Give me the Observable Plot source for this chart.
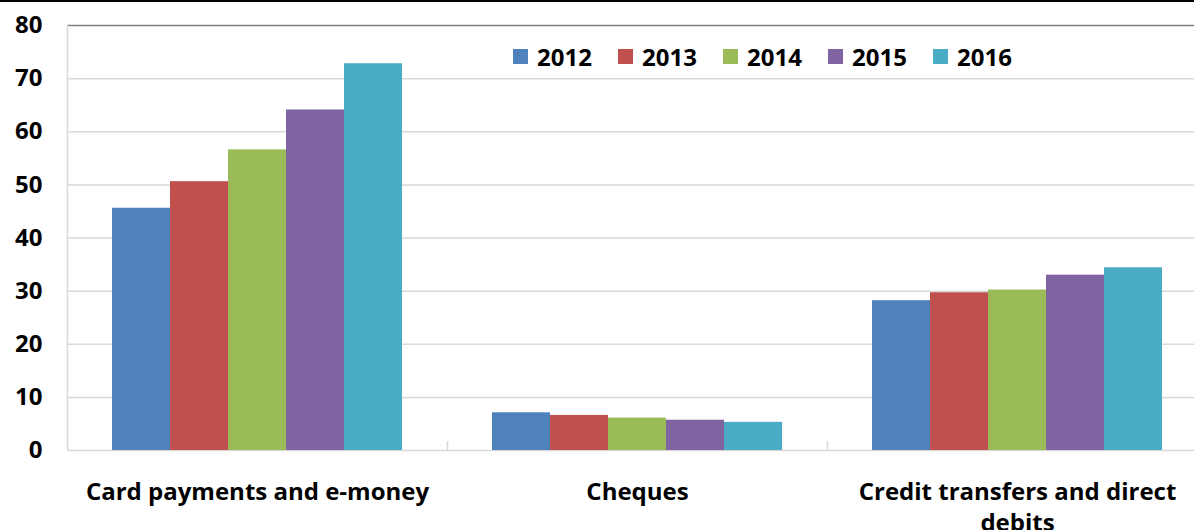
<!DOCTYPE html>
<html>
<head>
<meta charset="utf-8">
<script src="https://cdn.jsdelivr.net/npm/d3@7"></script>
<script src="https://cdn.jsdelivr.net/npm/@observablehq/plot@0.6"></script>
<style>
  html, body { margin: 0; padding: 0; background: #fff; width: 1194px; height: 530px; overflow: hidden; }
  #wrap { position: relative; width: 1194px; height: 530px; overflow: hidden; font-family: "Open Sans", sans-serif; }
  #topline { position: absolute; left: 0; top: 0; width: 1194px; height: 2px; background: #000; }
  #legend { position: absolute; left: 513px; top: 40px; }
  .lg-swatches { margin: 0 !important; min-height: 0 !important; }
  .lg-swatch { width: 105px; margin-right: 0 !important; color: #000; }
  .lg-swatch svg { margin-right: 9px !important; }
</style>
</head>
<body>
<div id="wrap">
  <div id="chart"></div>
  <div id="legend"></div>
  <div id="topline"></div>
</div>
<script>
const categories = ["Card payments and e-money", "Cheques", "Credit transfers and direct debits"];
const categoryLabels = ["Card payments and e-money", "Cheques", "Credit transfers and direct\ndebits"];
const years = ["2012", "2013", "2014", "2015", "2016"];
const cardValues = [45.6, 50.6, 56.6, 64.1, 72.8];
const chequeValues = [7.1, 6.6, 6.1, 5.7, 5.3];
const creditValues = [28.2, 29.7, 30.2, 33.0, 34.4];
const yTicks = [0, 10, 20, 30, 40, 50, 60, 70, 80];
const yearColors = ["#4F81BD", "#C0504D", "#9BBB59", "#8064A2", "#4BACC6"];

const seriesByCategory = [cardValues, chequeValues, creditValues];
const data = [];
categories.forEach((c, ci) => {
  years.forEach((y, yi) => data.push({category: c, year: y, value: seriesByCategory[ci][yi]}));
});

const W = 1207, ML = 67, MR = 0;
const facetW = (W - ML - MR) / categories.length;

const chart = Plot.plot({
  width: W,
  height: 530,
  marginLeft: ML,
  marginRight: MR,
  marginTop: 25,
  marginBottom: 80,
  style: {maxWidth: "none", overflow: "visible", fontFamily: "Open Sans, sans-serif", color: "#000", background: "transparent"},
  fx: {domain: categories, padding: 0, label: null},
  x: {type: "band", domain: years, paddingInner: 0, paddingOuter: 0.742, axis: null},
  y: {domain: [0, 80], label: null},
  color: {domain: years, range: yearColors},
  marks: [
    Plot.ruleY(yTicks.filter(t => t > 0 && t < 80), {stroke: "#D9D9D9", strokeWidth: 1.5}),
    Plot.ruleY([80], {stroke: "#7F7F7F", strokeWidth: 1.5}),
    Plot.ruleY([0], {stroke: "#D9D9D9", strokeWidth: 1.5}),
    Plot.ruleX(categories.slice(0, 1), {fx: d => d, x: null, dx: -facetW / 2, stroke: "#D9D9D9", strokeWidth: 1.5}),
    Plot.ruleX(categories.slice(1), {fx: d => d, x: null, dx: -facetW / 2, insetTop: 416, stroke: "#D9D9D9", strokeWidth: 1.5}),
    Plot.barY(data, {fx: "category", x: "year", y: "value", fill: "year", inset: 0}),
    Plot.axisY({ticks: yTicks, tickSize: 0, tickPadding: 25, fontSize: 24, fontWeight: "bold", fill: "#000", label: null}),
    Plot.axisFx({anchor: "bottom", tickSize: 0, tickPadding: 27, fontSize: 24, fontWeight: "bold", fill: "#000", lineHeight: 1.3,
      tickFormat: d => categoryLabels[categories.indexOf(d)], label: null})
  ]
});
document.getElementById("chart").appendChild(chart);

const legend = Plot.legend({
  color: {domain: years, range: yearColors},
  legend: "swatches",
  swatchSize: 15,
  className: "lg",
  style: {fontSize: "24px", fontWeight: "bold", fontFamily: "Open Sans, sans-serif", color: "#000"}
});
document.getElementById("legend").appendChild(legend);
</script>
</body>
</html>
